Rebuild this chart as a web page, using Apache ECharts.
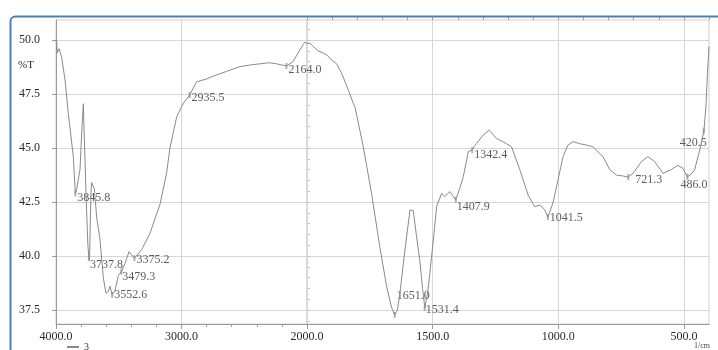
<!DOCTYPE html>
<html><head><meta charset="utf-8">
<script src="https://cdn.jsdelivr.net/npm/echarts@6/dist/echarts.min.js"></script>
<style>html,body{margin:0;padding:0;background:#fff}#c{width:718px;height:350px}</style>
</head><body><div id="c"></div>
<script>
// FTIR spectrum, wavenumber (cm-1) vs %T
const wavenumbers = [4000,3995,3990,3975,3955,3928,3902,3862,3846,3835,3809,3790,3782,3776,3760,3746,3738,3733,3722,3716,3708,3694,3676,3650,3623,3602,3583,3570,3552,3530,3503,3479,3450,3418,3397,3375,3317,3251,3171,3120,3092,3038,2986,2936,2879,2799,2760,2746,2640,2534,2450,2375,2300,2242,2164,2112,2056,2030,2016,2000,1988,1975,1955,1935,1920,1902,1882,1862,1836,1816,1809,1776,1743,1710,1683,1663,1651,1640,1630,1610,1590,1584,1577,1565,1551,1540,1531,1520,1511,1495,1484,1464,1451,1440,1431,1420,1408,1393,1378,1358,1345,1326,1299,1275,1246,1206,1186,1153,1120,1093,1073,1054,1041,1034,1020,1007,981,961,941,915,888,862,822,795,769,740,722,702,669,643,616,583,550,524,504,486,470,457,437,420,412,406,402,400];
const transmittance = [49.9,50.0,49.4,49.6,49.2,48.15,46.6,44.6,42.9,43.1,44.0,46.3,47.05,45.8,42.75,40.5,39.95,39.8,42.8,43.4,43.35,43.1,41.8,40.8,39.0,38.27,38.35,38.6,38.2,38.4,39.1,39.27,39.66,40.2,40.05,39.9,40.3,41.05,42.4,43.8,45.0,46.45,47.07,47.45,48.07,48.2,48.3,48.35,48.55,48.77,48.85,48.9,48.95,48.9,48.8,49.0,49.55,49.8,49.9,49.85,49.85,49.7,49.5,49.4,49.3,49.07,48.9,48.46,47.7,47.07,46.9,45.06,42.9,40.4,38.58,37.6,37.27,37.5,38.3,40.3,42.13,42.2,42.1,41.0,39.8,38.5,37.6,38.3,39.2,41.0,42.3,42.9,42.75,42.9,42.98,42.8,42.6,43.1,43.67,44.83,44.9,45.2,45.6,45.83,45.45,45.2,45.06,44.0,42.82,42.28,42.36,42.13,41.8,41.85,42.5,43.2,44.6,45.14,45.3,45.2,45.14,45.06,44.6,44.0,43.75,43.7,43.65,43.83,44.37,44.6,44.37,43.83,44.0,44.2,44.06,43.67,43.8,44.0,44.9,45.8,47.0,48.5,49.3,49.7];

const peakWavenumbers = [3845.8,3737.8,3552.6,3479.3,3375.2,2935.5,2164.0,1651.0,1531.4,1407.9,1342.4,1041.5,721.3,486.0,420.5];
const peakTransmittance = [42.9,39.9,38.2,39.27,39.9,47.45,48.8,37.27,37.6,42.6,44.9,41.8,43.65,43.67,45.8];
const peakLabelOffsets = [[1,4],[0,7],[1,0],[0,5],[1,2],[1,3],[1,4],[1,-19],[0,2],[0,7],[1,5],[1,1],[6,3],[-8,8],[-25,12]];

const yTickValues = [37.5,40.0,42.5,45.0,47.5,50.0];
const yMinorTickValues = [37,37.5,38,38.5,39,39.5,40,40.5,41,41.5,42,42.5,43,43.5,44,44.5,45,45.5,46,46.5,47,47.5,48,48.5,49,49.5,50,50.5];
const xTickValuesRight = [500,1000,1500];
const seriesName = '3';

const FONT = "'Liberation Serif','Times New Roman',serif";
const pts = wavenumbers.map((w,i)=>[w, transmittance[i]]);
const leftPts = pts.filter(p=>p[0]>=2000);
const rightPts = pts.filter(p=>p[0]<=2000);
const peaks = peakWavenumbers.map((w,i)=>({
  value:[w, peakTransmittance[i]],
  label:{offset: peakLabelOffsets[i], formatter: w.toFixed(1)}
}));
const leftPeaks = peaks.filter(p=>p.value[0]>=2000);
const rightPeaks = peaks.filter(p=>p.value[0]<2000);

const YMIN = 36.85, YMAX = 50.93;
const gridLine = {show:true, lineStyle:{color:'#d6d6d6', width:1}};
const axisLineStyle = {show:true, lineStyle:{color:'#9a9a9a', width:1}};
const labelStyle = {color:'#2a2a2a', fontFamily:FONT, fontSize:12};

const peakLabel = {show:true, position:'right', distance:0, color:'#333', fontFamily:FONT, fontSize:12};

const chart = echarts.init(document.getElementById('c'), null, {renderer:'canvas'});
chart.setOption({
  animation:false,
  backgroundColor:'#ffffff',
  grid:[
    {left:56, top:20, width:251, bottom:26, show:true, borderColor:'#d0d0d0', borderWidth:1},
    {left:307, top:20, right:9, bottom:26, show:true, borderColor:'#d0d0d0', borderWidth:1}
  ],
  legend:{data:[seriesName], left:62, top:337, itemWidth:12, itemHeight:2, itemGap:4,
    textStyle:{fontFamily:FONT, fontSize:10, color:'#333'}, icon:'rect'},
  xAxis:[
    {type:'value', gridIndex:0, inverse:true, min:2000, max:4000, interval:1000,
      axisLine:axisLineStyle, axisTick:{show:true, length:5, lineStyle:{color:'#9a9a9a'}},
      minorTick:{show:true, splitNumber:5, length:3, lineStyle:{color:'#9a9a9a'}},
      axisLabel:Object.assign({margin:7, formatter:v=>v.toFixed(1)}, labelStyle),
      splitLine:gridLine},
    {type:'value', gridIndex:1, inverse:true, min:400, max:2000,
      axisLine:axisLineStyle,
      axisTick:{show:true, length:5, customValues:xTickValuesRight, lineStyle:{color:'#9a9a9a'}},
      axisLabel:Object.assign({margin:7, customValues:xTickValuesRight, formatter:v=>v.toFixed(1)}, labelStyle),
      splitLine:gridLine},
    {type:'value', gridIndex:1, inverse:true, min:400, max:2000, interval:100,
      axisLine:{show:false}, axisTick:{show:true, length:3, lineStyle:{color:'#9a9a9a'}},
      axisLabel:{show:false}, splitLine:{show:false}}
  ],
  yAxis:[
    {type:'value', gridIndex:0, min:YMIN, max:YMAX,
      axisLine:axisLineStyle,
      axisTick:{show:true, length:4, customValues:yTickValues, lineStyle:{color:'#9a9a9a'}},
      axisLabel:Object.assign({margin:16, customValues:yTickValues, formatter:v=>v.toFixed(1)}, labelStyle),
      splitLine:gridLine},
    {type:'value', gridIndex:1, min:YMIN, max:YMAX,
      axisLine:{show:false},
      axisTick:{show:false, customValues:yTickValues},
      axisLabel:{show:false, customValues:yTickValues},
      splitLine:gridLine},
    {type:'value', gridIndex:0, min:YMIN, max:YMAX,
      axisLine:{show:false},
      axisTick:{show:true, inside:false, length:3, customValues:yMinorTickValues, lineStyle:{color:'#e3b6c9'}},
      axisLabel:{show:false}, splitLine:{show:false}}
  ],
  series:[
    {name:seriesName, type:'line', xAxisIndex:0, yAxisIndex:0, data:leftPts, showSymbol:false,
      lineStyle:{color:'#8a8a8a', width:1}, itemStyle:{color:'#8a8a8a'}},
    {name:seriesName, type:'line', xAxisIndex:1, yAxisIndex:1, data:rightPts, showSymbol:false,
      lineStyle:{color:'#8a8a8a', width:1}, itemStyle:{color:'#8a8a8a'}},
    {type:'scatter', xAxisIndex:0, yAxisIndex:0, data:leftPeaks, symbol:'rect', symbolSize:[2,6],
      itemStyle:{color:'#9d93c6'}, label:peakLabel},
    {type:'scatter', xAxisIndex:1, yAxisIndex:1, data:rightPeaks, symbol:'rect', symbolSize:[2,6],
      itemStyle:{color:'#9d93c6'}, label:peakLabel}
  ],
  graphic:[
    {type:'rect', left:8, top:14, z:-1, shape:{width:720, height:345, r:5},
      style:{fill:'none', stroke:'#4a7ebb', lineWidth:2}},
    {type:'text', left:18, top:60, style:{text:'%T', fill:'#2a2a2a', font:"11px 'Liberation Serif',serif"}},
    {type:'text', left:694, top:342, style:{text:'1/cm', fill:'#444', font:"8px 'Liberation Serif',serif"}}
  ]
});
</script></body></html>
